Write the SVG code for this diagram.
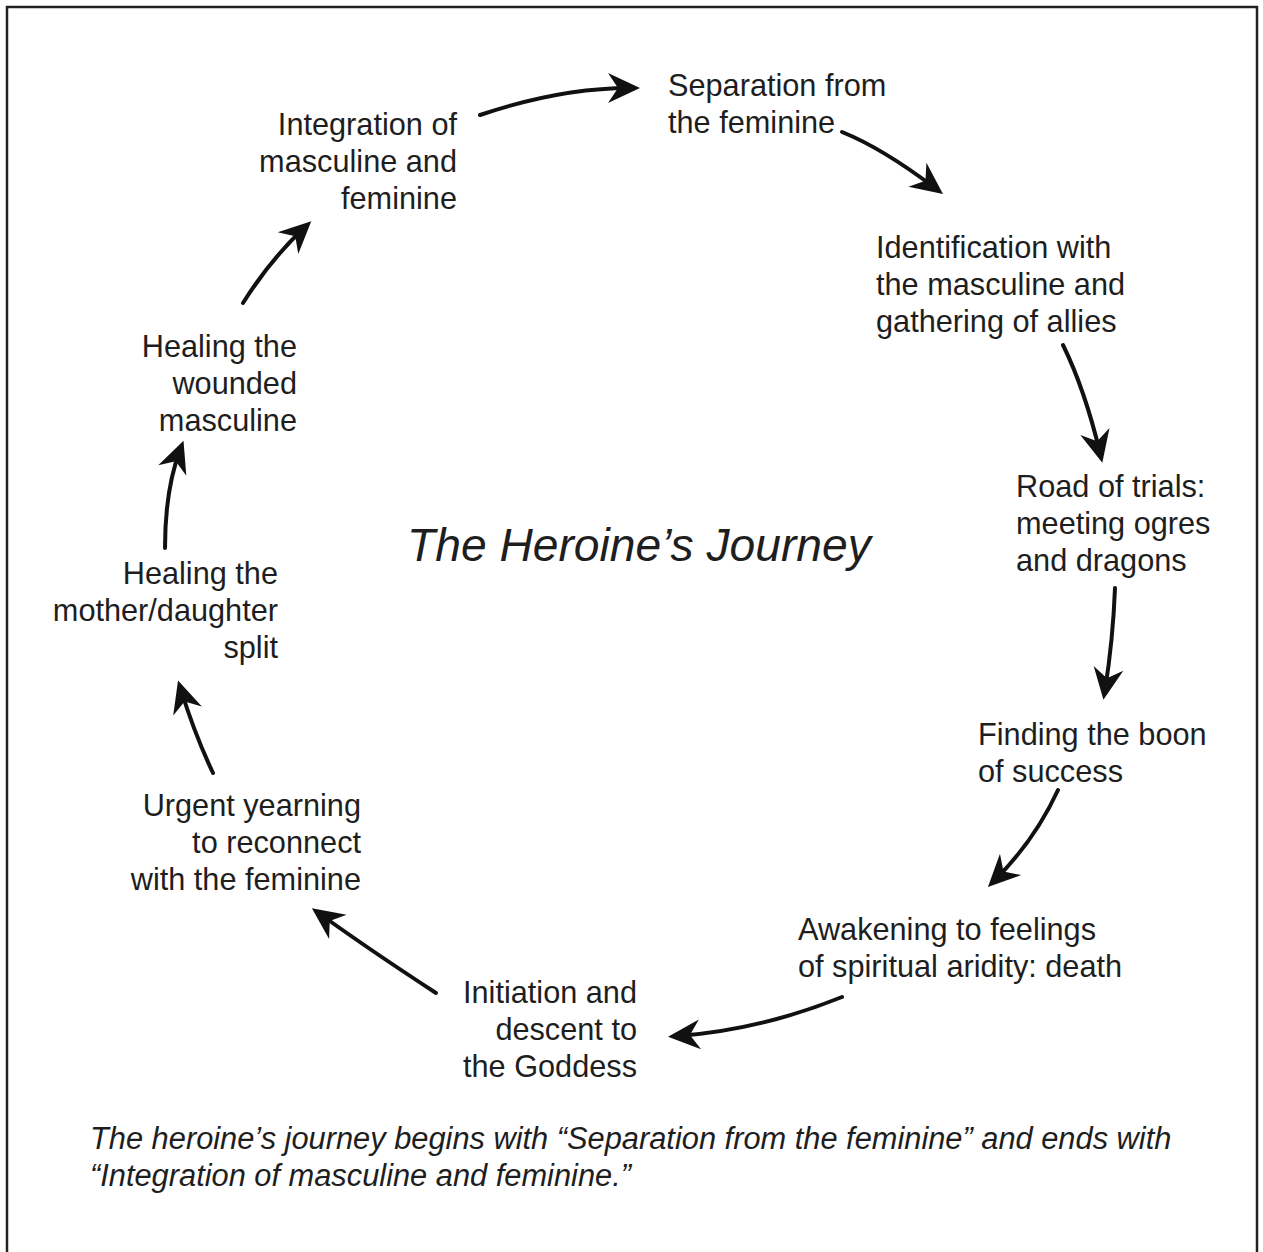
<svg xmlns="http://www.w3.org/2000/svg" width="1263" height="1252" viewBox="0 0 1263 1252">
<style>
.n{font-family:"Liberation Sans",Arial,Helvetica,sans-serif;font-size:30.7px;fill:#1e1e1e}
.r{text-anchor:end}
.t{font-family:"Liberation Sans",Arial,Helvetica,sans-serif;font-style:italic;font-size:46.2px;fill:#1e1e1e}
.c{font-family:"Liberation Sans",Arial,Helvetica,sans-serif;font-style:italic;font-size:30.8px;fill:#1e1e1e}
.a{fill:none;stroke:#111;stroke-width:4;stroke-linecap:round}
</style>
<defs>
<marker id="ah" viewBox="-34 -17 36 34" refX="-10" refY="0" markerWidth="36" markerHeight="34" markerUnits="userSpaceOnUse" orient="auto">
<path d="M0,0 L-32,-15 L-22,0 L-32,15 Z" fill="#111"/>
</marker>
</defs>
<rect x="0" y="0" width="1263" height="1252" fill="#fff"/>
<rect x="7" y="7" width="1250" height="1270" fill="none" stroke="#222" stroke-width="2.5"/>

<g id="connectors">
<path class="a" marker-end="url(#ah)" d="M480,115 Q560,88 630,88"/>
<path class="a" marker-end="url(#ah)" d="M842,132 Q882,148 935,188"/>
<path class="a" marker-end="url(#ah)" d="M1063,345 Q1085,390 1100,453"/>
<path class="a" marker-end="url(#ah)" d="M1115,588 Q1113,640 1105,690"/>
<path class="a" marker-end="url(#ah)" d="M1058,790 Q1035,840 995,880"/>
<path class="a" marker-end="url(#ah)" d="M842,997 Q760,1030 678,1036"/>
<path class="a" marker-end="url(#ah)" d="M436,993 Q370,950 320,914"/>
<path class="a" marker-end="url(#ah)" d="M213,773 Q195,735 181,690"/>
<path class="a" marker-end="url(#ah)" d="M165,548 Q165,490 180,450"/>
<path class="a" marker-end="url(#ah)" d="M243,303 Q270,260 304,228"/>
</g>

<g id="integration"><text class="n r" x="457" y="135">Integration of</text><text class="n r" x="457" y="172">masculine and</text><text class="n r" x="457" y="209">feminine</text></g>
<g id="separation"><text class="n" x="668" y="96">Separation from</text><text class="n" x="668" y="133">the feminine</text></g>
<g id="identification"><text class="n" x="876" y="258">Identification with</text><text class="n" x="876" y="295">the masculine and</text><text class="n" x="876" y="332">gathering of allies</text></g>
<g id="road"><text class="n" x="1016" y="497">Road of trials:</text><text class="n" x="1016" y="534">meeting ogres</text><text class="n" x="1016" y="571">and dragons</text></g>
<g id="boon"><text class="n" x="978" y="745">Finding the boon</text><text class="n" x="978" y="782">of success</text></g>
<g id="awakening"><text class="n" x="798" y="940">Awakening to feelings</text><text class="n" x="798" y="977">of spiritual aridity: death</text></g>
<g id="initiation"><text class="n r" x="637" y="1003">Initiation and</text><text class="n r" x="637" y="1040">descent to</text><text class="n r" x="637" y="1077">the Goddess</text></g>
<g id="urgent"><text class="n r" x="361" y="816">Urgent yearning</text><text class="n r" x="361" y="853">to reconnect</text><text class="n r" x="361" y="890">with the feminine</text></g>
<g id="mother"><text class="n r" x="278" y="584">Healing the</text><text class="n r" x="278" y="621">mother/daughter</text><text class="n r" x="278" y="658">split</text></g>
<g id="wounded"><text class="n r" x="297" y="357">Healing the</text><text class="n r" x="297" y="394">wounded</text><text class="n r" x="297" y="431">masculine</text></g>

<g id="title"><text class="t" x="407" y="561">The Heroine’s Journey</text></g>
<g id="caption"><text class="c" x="90" y="1149">The heroine’s journey begins with “Separation from the feminine” and ends with</text><text class="c" x="90" y="1186">“Integration of masculine and feminine.”</text></g>
</svg>
